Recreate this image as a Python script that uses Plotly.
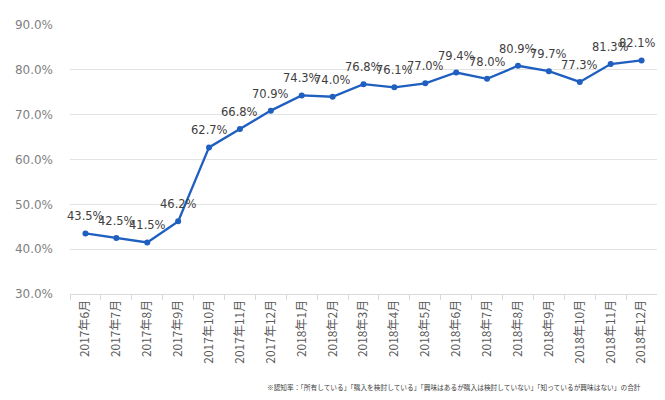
import plotly.graph_objects as go

months = ["2017年6月", "2017年7月", "2017年8月", "2017年9月", "2017年10月", "2017年11月",
          "2017年12月", "2018年1月", "2018年2月", "2018年3月", "2018年4月", "2018年5月",
          "2018年6月", "2018年7月", "2018年8月", "2018年9月", "2018年10月", "2018年11月",
          "2018年12月"]
rate = [43.5, 42.5, 41.5, 46.2, 62.7, 66.8, 70.9, 74.3, 74.0, 76.8, 76.1, 77.0,
        79.4, 78.0, 80.9, 79.7, 77.3, 81.3, 82.1]
y_ticks = [30, 40, 50, 60, 70, 80, 90]

note = "※認知率：「所有している」「購入を検討している」「興味はあるが購入は検討していない」「知っているが興味はない」の合計"

fig = go.Figure()
fig.add_trace(go.Scatter(
    x=months,
    y=rate,
    mode="lines+markers",
    line=dict(color="#1f5fbf", width=2.3),
    marker=dict(color="#1f5fbf", size=6),
    showlegend=False,
    cliponaxis=False,
))

# data labels above each point (the last one nudged left so it stays on the page)
labels = [dict(
    x=m, y=v, text=f"{v:.1f}%",
    showarrow=False, yshift=17,
    xshift=-4 if i == len(months) - 1 else 0,
    font=dict(family="DejaVu Sans", size=11.5, color="#404040"),
) for i, (m, v) in enumerate(zip(months, rate))]

labels.append(dict(
    text=note,
    xref="paper", yref="paper",
    x=0.333, y=-0.346,
    xanchor="left", yanchor="middle",
    showarrow=False,
    font=dict(family="Noto Sans CJK JP", size=6.7, color="#404040"),
))

# the page body has an 8px margin on every side, so keep the figure inside the window
fig.update_layout(
    width=649,
    height=384,
    plot_bgcolor="white",
    paper_bgcolor="white",
    margin=dict(l=62, r=0, t=17, b=98),
    xaxis=dict(
        type="category",
        range=[-0.5, len(months) - 0.5],
        automargin=False,
        tickangle=-90,
        tickson="boundaries",
        ticks="outside",
        ticklen=5,
        tickcolor="#d9d9d9",
        showline=True,
        linecolor="#d9d9d9",
        showgrid=False,
        tickfont=dict(family="Noto Sans CJK JP", size=12, color="#595959"),
    ),
    yaxis=dict(
        automargin=False,
        range=[30, 90],
        tickvals=y_ticks,
        ticktext=[f"{v:.1f}%" for v in y_ticks],
        showgrid=True,
        gridcolor="#e3e3e3",
        gridwidth=1,
        zeroline=False,
        ticklabelstandoff=16,
        tickfont=dict(family="DejaVu Sans", size=12, color="#7f7f7f"),
    ),
    annotations=labels,
)

fig.write_html("out.html")
